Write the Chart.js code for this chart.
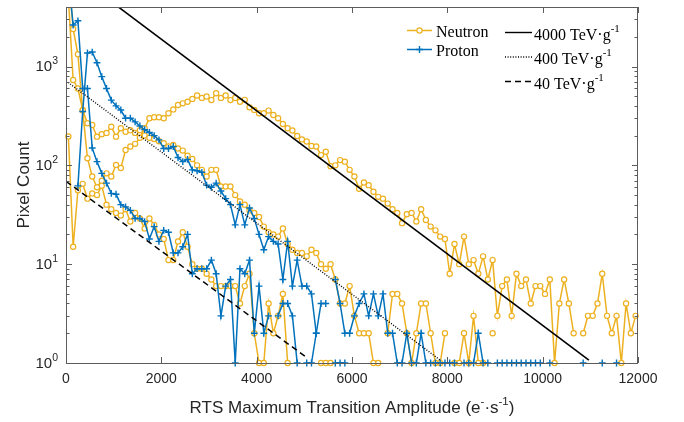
<!DOCTYPE html>
<html><head><meta charset="utf-8">
<script src="https://cdn.jsdelivr.net/npm/chart.js@4.4.1/dist/chart.umd.min.js"></script>
<style>html,body{margin:0;padding:0;background:#fff}canvas{display:block}</style>
</head><body>
<canvas id="c" width="684" height="422" style="width:684px;height:422px"></canvas>
<script>
// ---------- data ----------
const binCenters = [50,150,250,350,450,550,650,750,850,950,
1050,1150,1250,1350,1450,1550,1650,1750,1850,1950,
2050,2150,2250,2350,2450,2550,2650,2750,2850,2950,
3050,3150,3250,3350,3450,3550,3650,3750,3850,3950,
4050,4150,4250,4350,4450,4550,4650,4750,4850,4950,
5050,5150,5250,5350,5450,5550,5650,5750,5850,5950,
6050,6150,6250,6350,6450,6550,6650,6750,6850,6950,
7050,7150,7250,7350,7450,7550,7650,7750,7850,7950,
8050,8150,8250,8350,8450,8550,8650,8750,8850,8950,
9050,9150,9250,9350,9450,9550,9650,9750,9850,9950,
10050,10150,10250,10350,10450,10550,10650,10750,10850,10950,
11050,11150,11250,11350,11450,11550,11650,11750,11850,11950];

const neutron4000 = [9000,2400,1330,360,118,77,60,70,83,77,
101,94,143,155,165,190,237,300,307,307,
300,336,368,408,424,440,470,508,481,498,
457,537,481,508,457,481,440,460,386,364,
336,336,358,323,300,262,237,225,198,183,
174,157,155,127,137,98,100,113,109,90,
77,58,67,63,54,48,46,41,36,33,
26,32,33,27,36,28,24,22,19,18,
8,16,10,19,10,11,8,12,7,11,
3,6,7,3,8,6,7,4,6,6,
5,7,1,4,7,4,2,null,2,3,
3,4,8,3,2,3,1,4,2,3];

const neutron400 = [5000,730,600,363,267,256,195,206,213,246,
195,237,219,227,213,227,200,190,185,175,
167,155,161,148,141,125,116,100,90,77,
90,90,61,61,61,50,43,40,35,33,
30,24,21,20,19,23,16,14,13,13,
12,14,13,10,9,10,7,4,4,6,
3,2,2,2,1,1,null,2,5,5,
4,2,1,2,4,4,2,1,1,2,
null,1,1,2,1,3,1,1,null,2,
null,null,null,null,null,null,null,null,null,null,
null,null,null,null,null,null,null,null,null,null,
null,null,null,null,null,null,null,null,null,null];

const neutron40 = [196,15,56,65,46,52,50,62,40,36,
33,31,36,27,33,29,23,29,25,20,
18,11,11,17,21,15,10,9,9,8,
7,6,6,6,6,6,4,6,8,2,
1,1,4,2,3,5,1,null,null,null,
null,null,null,1,1,1,null,null,null,null,
null,null,null,null,null,null,null,null,null,null,
null,null,null,null,null,null,null,null,null,null,
null,null,null,null,null,null,null,null,null,null,
null,null,null,null,null,null,null,null,null,null,
null,null,null,null,null,null,null,null,null,null,
null,null,null,null,null,null,null,null,null,null];

const proton400 = [null,null,62,350,1370,1400,1090,790,600,457,
400,363,300,300,275,250,230,215,200,181,
148,148,155,120,109,115,90,88,85,63,
60,66,55,46,40,25,40,25,37,29,
20,14,19,17,16,7,17,6,11,6,
6,5,2,null,null,null,7,4,2,2,
3,4,5,3,5,3,5,2,2,1,
1,2,1,1,2,1,1,1,1,1,
1,1,null,1,1,1,2,1,1,null,
1,1,1,1,1,1,1,1,1,1,
null,1,null,null,null,null,null,null,1,null,
null,null,1,null,null,1,null,null,null,null];

const proton40 = [8000,2630,2900,600,600,150,109,83,66,52,
51,40,38,35,29,29,27,18,24,17,
22,21,13,13,15,20,8,9,9,9,
11,8,3,6,7,1,9,8,11,2,
6,2,3,null,3,4,4,3,1,null,
1,1,2,4,4,null,1,1,1,null,
null,null,null,null,null,null,null,null,null,null,
null,null,null,null,null,null,null,null,null,null,
null,null,null,null,null,null,null,null,null,null,
null,null,null,null,null,null,null,null,null,null,
null,null,null,null,null,null,null,null,null,null,
null,null,null,null,null,null,null,null,null,null];

// exponential reference lines (end points)
const fit4000X = [0, 10970], fit4000Y = [10000, 1.07];
const fit400X  = [0, 7850],  fit400Y  = [716, 1.07];
const fit40X   = [0, 5035],  fit40Y   = [69, 1.15];

const xTickValues = [0,2000,4000,6000,8000,10000,12000];
const xTickLabels = ['0','2000','4000','6000','8000','10000','12000'];
const yTickValues = [1,10,100,1000];
const yTickBase = '10';
const yTickExponents = ['0','1','2','3'];
const legendSeries = ['Neutron','Proton'];
const legendFits = ['4000 TeV\u00B7g','400 TeV\u00B7g','40 TeV\u00B7g'];
const legendFitSup = '-1';
const xTitleParts = ['RTS Maximum Transition Amplitude (e','-','\u00B7s','-1',')'];
const yTitle = 'Pixel Count';

// ---------- styling ----------
const SANS = "'Liberation Sans',Arial,sans-serif";
const SERIF = "'Liberation Serif','Times New Roman',serif";
const ORANGE = '#EDB120', BLUE = '#0072BD', AXIS = '#262626', BOX = '#5c5c5c';

const pts = (arr) => arr.map((v,i)=>({x:binCenters[i], y:v}));
const fitPts = (xs, ys) => xs.map((x,i)=>({x:x, y:ys[i]}));
const CLIP = {left:5, right:5, top:0, bottom:5};

const neutronStyle = {borderColor:ORANGE, borderWidth:1.5, pointStyle:'circle', pointRadius:2.6,
  pointBorderWidth:1.2, pointBorderColor:ORANGE, pointBackgroundColor:'#ffffff', spanGaps:false, clip:CLIP, tension:0};
const protonStyle = {borderColor:BLUE, borderWidth:1.5, pointStyle:'cross', pointRadius:3.4,
  pointBorderWidth:1.4, pointBorderColor:BLUE, pointBackgroundColor:BLUE, spanGaps:false, clip:CLIP, tension:0};
const fitStyle = {borderColor:'#000', pointRadius:0, clip:0, tension:0};

function drawRuns(ctx, runs, x, y, align){
  let w = 0;
  runs.forEach(r=>{ ctx.font = r.size+'px '+r.fam; r.w = ctx.measureText(r.t).width; w += r.w; });
  let cx = align==='center' ? x - w/2 : (align==='right' ? x - w : x);
  ctx.textAlign = 'left'; ctx.textBaseline = 'alphabetic';
  runs.forEach(r=>{ ctx.font = r.size+'px '+r.fam; ctx.fillText(r.t, cx, y + (r.dy||0)); cx += r.w; });
}

const framePlugin = {
  id:'frame',
  afterDatasetsDraw(chart){
    const ctx = chart.ctx, a = chart.chartArea;
    const xs = chart.scales.x, ys = chart.scales.y;
    ctx.save();
    // box
    ctx.strokeStyle = BOX; ctx.lineWidth = 1;
    ctx.strokeRect(Math.round(a.left)+0.5, Math.round(a.top)+0.5, Math.round(a.right-a.left)-1, Math.round(a.bottom-a.top));
    // x ticks (inward, bottom & top)
    ctx.beginPath();
    xTickValues.forEach(v=>{
      const px = Math.round(xs.getPixelForValue(v))+0.5;
      ctx.moveTo(px, a.bottom); ctx.lineTo(px, a.bottom-6);
      ctx.moveTo(px, a.top); ctx.lineTo(px, a.top+6);
    });
    // y ticks major/minor
    for(let d=0; d<=3; d++){
      for(let m=1; m<=9; m++){
        const v = m*Math.pow(10,d);
        if(v < ys.min || v > ys.max) continue;
        const py = Math.round(ys.getPixelForValue(v))+0.5;
        const len = (m===1) ? 6 : 3.5;
        ctx.moveTo(a.left, py); ctx.lineTo(a.left+len, py);
        ctx.moveTo(a.right, py); ctx.lineTo(a.right-len, py);
      }
    }
    ctx.stroke();
    ctx.fillStyle = AXIS;
    // x tick labels
    xTickValues.forEach((v,i)=>{
      drawRuns(ctx, [{t:xTickLabels[i], size:14, fam:SANS}], xs.getPixelForValue(v), 382.5, 'center');
    });
    // y tick labels with superscript exponents
    yTickValues.forEach((v,i)=>{
      const py = ys.getPixelForValue(v);
      drawRuns(ctx, [{t:yTickBase, size:15, fam:SANS},{t:yTickExponents[i], size:10.5, fam:SANS, dy:-7}], 58, py+4.5, 'right');
    });
    // x title
    drawRuns(ctx, [
      {t:xTitleParts[0], size:17, fam:SANS},
      {t:xTitleParts[1], size:11.5, fam:SANS, dy:-8},
      {t:xTitleParts[2], size:17, fam:SANS},
      {t:xTitleParts[3], size:11.5, fam:SANS, dy:-8},
      {t:xTitleParts[4], size:17, fam:SANS}], (a.left+a.right)/2, 413, 'center');
    // y title
    ctx.save();
    ctx.translate(28.5, (a.top+a.bottom)/2);
    ctx.rotate(-Math.PI/2);
    drawRuns(ctx, [{t:yTitle, size:17, fam:SANS}], 0, 0, 'center');
    ctx.restore();

    // legend: series
    ctx.fillStyle = '#000';
    const lx0 = 407, lx1 = 432, mx = 419.5;
    [[30.5, ORANGE, 'circle'],[49.5, BLUE, 'cross']].forEach((row,i)=>{
      const [ly, col, shape] = row;
      ctx.strokeStyle = col; ctx.lineWidth = 1.5;
      ctx.beginPath(); ctx.moveTo(lx0, ly); ctx.lineTo(lx1, ly); ctx.stroke();
      if(shape==='circle'){
        ctx.fillStyle = '#fff'; ctx.lineWidth = 1.2;
        ctx.beginPath(); ctx.arc(mx, ly, 2.6, 0, Math.PI*2); ctx.fill(); ctx.stroke();
      } else {
        ctx.lineWidth = 1.4;
        ctx.beginPath(); ctx.moveTo(mx-3.4, ly); ctx.lineTo(mx+3.4, ly); ctx.moveTo(mx, ly-3.4); ctx.lineTo(mx, ly+3.4); ctx.stroke();
      }
      ctx.fillStyle = '#000';
      drawRuns(ctx, [{t:legendSeries[i], size:16, fam:SERIF}], 436, ly+6, 'left');
    });
    // legend: fits
    const fx0 = 505, fx1 = 532;
    const fitRows = [[32.5, []],[57, [1,1.6]],[81.5, [6,4]]];
    fitRows.forEach((row,i)=>{
      const [ly, dash] = row;
      ctx.strokeStyle = '#000'; ctx.lineWidth = 1.4; ctx.setLineDash(dash);
      ctx.beginPath(); ctx.moveTo(fx0, ly); ctx.lineTo(fx1, ly); ctx.stroke();
      ctx.setLineDash([]);
      ctx.fillStyle = '#000';
      drawRuns(ctx, [{t:legendFits[i], size:16, fam:SERIF},{t:legendFitSup, size:11, fam:SERIF, dy:-8}], 534, ly+7, 'left');
    });
    ctx.restore();
  }
};

new Chart(document.getElementById('c'), {
  type:'line',
  data:{ datasets:[
    Object.assign({label:'4000 TeV/g', data:fitPts(fit4000X, fit4000Y), borderWidth:1.6, borderDash:[]}, fitStyle),
    Object.assign({label:'400 TeV/g', data:fitPts(fit400X, fit400Y), borderWidth:1.4, borderDash:[1,1.6]}, fitStyle),
    Object.assign({label:'40 TeV/g', data:fitPts(fit40X, fit40Y), borderWidth:1.5, borderDash:[6,4]}, fitStyle),
    Object.assign({label:'Proton 400', data:pts(proton400)}, protonStyle),
    Object.assign({label:'Proton 40', data:pts(proton40)}, protonStyle),
    Object.assign({label:'Neutron 4000', data:pts(neutron4000)}, neutronStyle),
    Object.assign({label:'Neutron 400', data:pts(neutron400)}, neutronStyle),
    Object.assign({label:'Neutron 40', data:pts(neutron40)}, neutronStyle)
  ]},
  options:{
    responsive:false, animation:false, devicePixelRatio:1,
    layout:{padding:{top:7, right:46, left:0, bottom:0}},
    plugins:{legend:{display:false}, tooltip:{enabled:false}, title:{display:false}},
    scales:{
      x:{type:'linear', position:'bottom', min:0, max:12000,
        ticks:{stepSize:2000, autoSkip:false, maxRotation:0, display:false},
        grid:{display:false, drawTicks:false}, border:{display:false},
        afterFit:(s)=>{ s.height = 59; }},
      y:{type:'logarithmic', position:'left', min:1, max:4000,
        ticks:{display:false}, grid:{display:false, drawTicks:false}, border:{display:false},
        afterFit:(s)=>{ s.width = 66; }}
    }
  },
  plugins:[framePlugin]
});
</script>
</body></html>
